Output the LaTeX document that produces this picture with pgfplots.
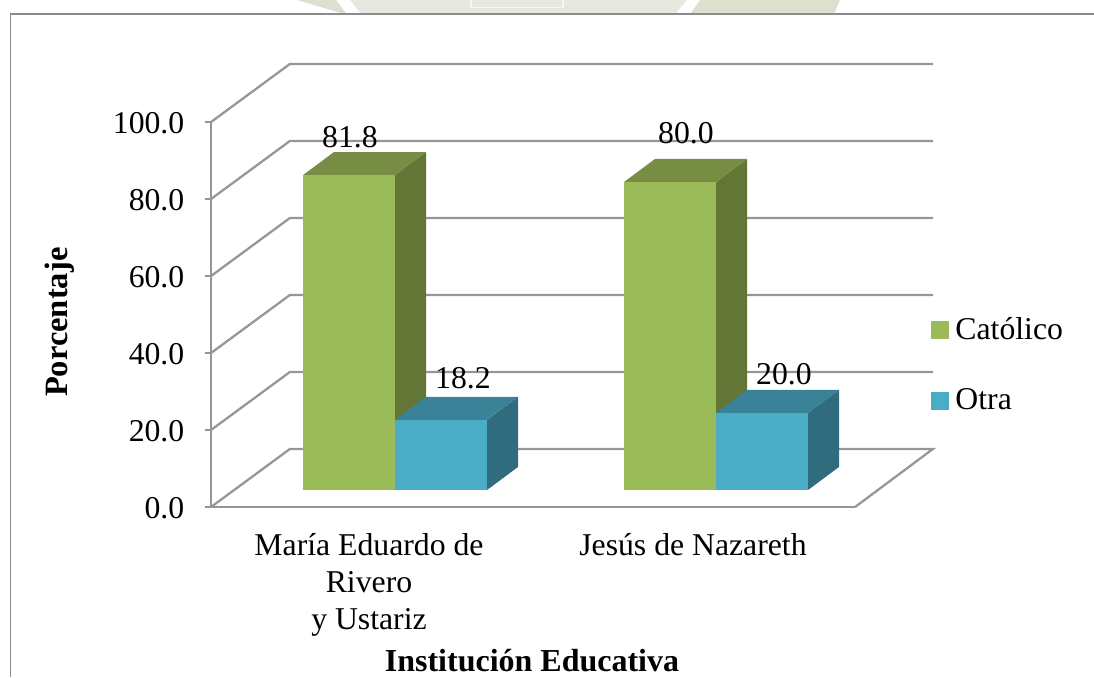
\documentclass[border=0pt]{standalone}
\usepackage{pgfplots}
\pgfplotsset{compat=1.18}
\usepackage{fontspec}
\setmainfont{Liberation Serif}

\definecolor{gridgray}{HTML}{969696}
\definecolor{framegray}{HTML}{8C8C8C}
\definecolor{catfront}{HTML}{9BBB59}
\definecolor{cattop}{HTML}{778D43}
\definecolor{catside}{HTML}{647636}
\definecolor{otrafront}{HTML}{4BACC6}
\definecolor{otratop}{HTML}{398298}
\definecolor{otraside}{HTML}{316C7E}
\definecolor{wmlight}{HTML}{E9E8E0}
\definecolor{wmdark}{HTML}{DFDFD0}
\definecolor{wmedge}{HTML}{F7F7F2}

% x data is in reference pixels, y data in percent; 1px = 0.75pt
\pgfplotsset{
  wall/.style={forget plot, gridgray, line width=1.7pt, line join=miter},
  face/.style={forget plot, draw=none, fill=#1, yshift=12.75pt},
  wm/.style={forget plot, draw=none, fill=#1},
}
\newcommand{\lblfont}{\fontsize{23.8}{27}\selectfont}

\begin{document}
\begin{tikzpicture}
\begin{axis}[
    name=main,
    at={(0,0)}, anchor=origin,
    scale only axis,
    width=483pt, height=288.75pt,
    xmin=211, xmax=855,
    ymin=0, ymax=100,
    clip=false,
    axis line style={gridgray, line width=1.7pt},
    axis x line*=bottom,
    axis y line*=left,
    axis line style={-},
    ytick={0,20,40,60,80,100},
    xtick={369,693},
    xticklabels={{María Eduardo de\\Rivero\\y Ustariz},{Jesús de Nazareth}},
    xtick style={draw=none},
    ytick style={gridgray, line width=1.4pt},
    tick align=outside,
    major tick length=4.5pt,
    x tick label style={align=center, font=\fontsize{23.8}{27.75}\selectfont, yshift=-12pt},
    y tick label style={font=\lblfont, xshift=-12pt, yshift=-1.2pt},
    yticklabel style={/pgf/number format/.cd, fixed, fixed zerofill, precision=1, assume math mode=true},
    xlabel={\textbf{Institución Educativa}},
    ylabel={\textbf{Porcentaje}},
    xlabel style={font=\fontsize{24}{26}\selectfont, at={(axis cs:532,-44)}, anchor=base, yshift=3.5pt},
    ylabel style={font=\fontsize{24.4}{26}\selectfont, at={(axis cs:60,48)}, anchor=center, rotate=0},
    legend style={draw=none, fill=none, at={(axis cs:931,49.9)}, anchor=north west,
      font=\lblfont, row sep=31.2pt, inner sep=0pt},
    legend cell align=left,
    legend image code/.code={\fill[#1] (0pt,-6.4pt) rectangle (12.75pt,6.4pt);},
]
% bits of the page watermark above the frame
\addplot[wm=wmdark] coordinates {(297,131.7) (336,131.7) (347,128) (345,128)} --cycle;
\addplot[wm=wmlight] coordinates {(350,131.7) (687,131.7) (675,128) (361,128)} --cycle;
\addplot[wm=wmdark] coordinates {(700,131.7) (840,131.7) (834,128) (690,128)} --cycle;
\addplot[forget plot, wmedge, line width=0.9pt] coordinates {(471,131.7) (471,129.8) (563,129.8) (563,131.7)};

% back walls and grid lines
\addplot[wall] coordinates {(211,0) (290,15.1) (933,15.1) (855,0)};
\addplot[wall] coordinates {(211,20) (290,35.1) (933,35.1)};
\addplot[wall] coordinates {(211,40) (290,55.1) (933,55.1)};
\addplot[wall] coordinates {(211,60) (290,75.1) (933,75.1)};
\addplot[wall] coordinates {(211,80) (290,95.1) (933,95.1)};
\addplot[wall] coordinates {(211,100) (290,115.1) (933,115.1)};

% Maria Eduardo de Rivero y Ustariz, catolico 81.8
\addplot[face=catside] coordinates {(395,0) (426,6) (426,87.8) (395,81.8)} --cycle;
\addplot[face=cattop] coordinates {(303,81.8) (395,81.8) (426,87.8) (334,87.8)} --cycle;
\addplot[face=catfront] coordinates {(303,0) (395,0) (395,81.8) (303,81.8)} --cycle;
% otra 18.2
\addplot[face=otraside] coordinates {(487,0) (518,6) (518,24.2) (487,18.2)} --cycle;
\addplot[face=otratop] coordinates {(395,18.2) (487,18.2) (518,24.2) (426,24.2)} --cycle;
\addplot[face=otrafront] coordinates {(395,0) (487,0) (487,18.2) (395,18.2)} --cycle;

% Jesus de Nazareth, catolico 80.0
\addplot[face=catside] coordinates {(716,0) (747,6) (747,86) (716,80)} --cycle;
\addplot[face=cattop] coordinates {(624,80) (716,80) (747,86) (655,86)} --cycle;
\addplot[face=catfront] coordinates {(624,0) (716,0) (716,80) (624,80)} --cycle;
% otra 20.0
\addplot[face=otraside] coordinates {(808,0) (839,6) (839,26) (808,20)} --cycle;
\addplot[face=otratop] coordinates {(716,20) (808,20) (839,26) (747,26)} --cycle;
\addplot[face=otrafront] coordinates {(716,0) (808,0) (808,20) (716,20)} --cycle;

\addlegendimage{catfront}
\addlegendentry{\hspace{3pt}Católico}
\addlegendimage{otrafront}
\addlegendentry{\hspace{3pt}Otra}

\node[font=\lblfont] at (axis cs:350,96.0) {81.8};
\node[font=\lblfont] at (axis cs:463,33.6) {18.2};
\node[font=\lblfont] at (axis cs:686,97.0) {80.0};
\node[font=\lblfont] at (axis cs:784,34.6) {20.0};

% page corners and the outer frame
\coordinate (bl) at (axis cs:0,-44.2);
\coordinate (tr) at (axis cs:1094,131.7);
\draw[framegray, line width=1.4pt] (axis cs:10.5,-44.2) -- (axis cs:10.5,128) -- (axis cs:1094,128);
\end{axis}
\pgfresetboundingbox
\path[use as bounding box] (bl) rectangle (tr);
\end{tikzpicture}
\end{document}
